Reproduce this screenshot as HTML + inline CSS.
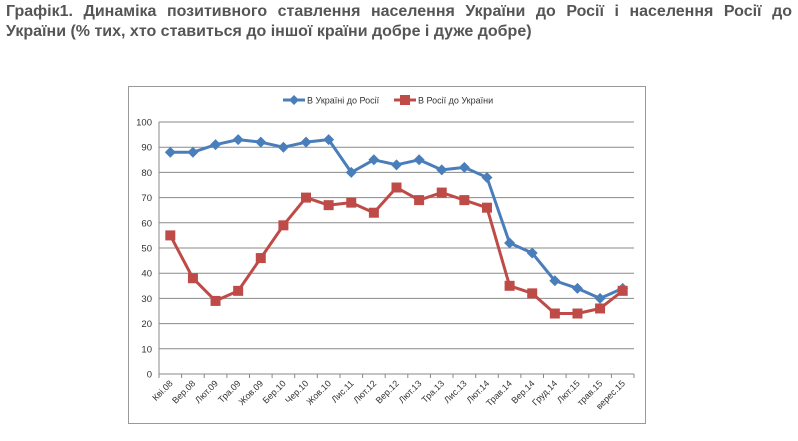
<!DOCTYPE html>
<html><head><meta charset="utf-8"><style>
body{margin:0;background:#fff;width:798px;height:441px;overflow:hidden;font-family:"Liberation Sans",sans-serif}
.t{position:absolute;left:6px;top:2px;width:786px;font-weight:bold;font-size:16px;line-height:20px;color:#555}
.l1{text-align:justify;text-align-last:justify;white-space:nowrap}
</style></head><body>
<div class="t"><div class="l1">Графік1. Динаміка позитивного ставлення населення України до Росії і населення Росії до</div><div>України (% тих, хто ставиться до іншої країни добре і дуже добре)</div></div>
<svg width="798" height="441" style="position:absolute;left:0;top:0" font-family="Liberation Sans, sans-serif">
<rect x="128.5" y="86.5" width="517" height="337" fill="#fff" stroke="#999" stroke-width="1"/>
<g id="g"></g>
</svg>
<script>
const B=[88,88,91,93,92,90,92,93,80,85,83,85,81,82,78,52,48,37,34,30,34];
const R=[55,38,29,33,46,59,70,67,68,64,74,69,72,69,66,35,32,24,24,26,33];
const L=["Кві.08","Вер.08","Лют.09","Тра.09","Жов.09","Бер.10","Чер.10","Жов.10","Лис.11","Лют.12","Вер.12","Лют.13","Тра.13","Лис.13","Лют.14","Трав.14","Вер.14","Груд.14","Лют.15","трав.15","верес.15"];
const x0=159,x1=634,y0=374,y100=122,w=(x1-x0)/21;
const Y=v=>y0-(y0-y100)*v/100, X=i=>x0+w/2+i*w;
let s="";
for(let v=0;v<=100;v+=10){const y=Y(v).toFixed(1);
 if(v>0)s+=`<line x1="${x0}" x2="${x1}" y1="${y}" y2="${y}" stroke="#8a8a8a" stroke-width="1"/>`;
 s+=`<text x="${x0-7}" y="${+y+3.5}" font-size="9.5" text-anchor="end" fill="#333">${v}</text>`;}
s+=`<line x1="${x0}" x2="${x0}" y1="${y100}" y2="${y0}" stroke="#888"/><line x1="${x0}" x2="${x1}" y1="${y0}" y2="${y0}" stroke="#888"/>`;
for(let i=0;i<=21;i++){const x=(x0+i*w).toFixed(1);s+=`<line x1="${x}" x2="${x}" y1="${y0}" y2="${y0+4}" stroke="#888"/>`;}
L.forEach((l,i)=>{const x=X(i)+3,y=y0+10;s+=`<text transform="translate(${x},${y}) rotate(-45)" font-size="9" text-anchor="end" fill="#333">${l}</text>`;});
s+=`<polyline points="${B.map((v,i)=>X(i)+","+Y(v)).join(" ")}" fill="none" stroke="#4a7ebb" stroke-width="3" stroke-linejoin="round"/>`;
s+=`<polyline points="${R.map((v,i)=>X(i)+","+Y(v)).join(" ")}" fill="none" stroke="#be4b48" stroke-width="3" stroke-linejoin="round"/>`;
B.forEach((v,i)=>{const x=X(i),y=Y(v);s+=`<polygon points="${x},${y-5.5} ${x+5.5},${y} ${x},${y+5.5} ${x-5.5},${y}" fill="#4a7ebb"/>`;});
R.forEach((v,i)=>{const x=X(i),y=Y(v);s+=`<rect x="${x-5}" y="${y-5}" width="10" height="10" fill="#be4b48"/>`;});
s+=`<line x1="283" x2="305" y1="100" y2="100" stroke="#4a7ebb" stroke-width="3"/><polygon points="294,95 299,100 294,105 289,100" fill="#4a7ebb"/>`;
s+=`<text x="307" y="103.5" font-size="9" fill="#333">В Україні до Росії</text>`;
s+=`<line x1="394" x2="416" y1="100" y2="100" stroke="#be4b48" stroke-width="3"/><rect x="400" y="95" width="10" height="10" fill="#be4b48"/>`;
s+=`<text x="418" y="103.5" font-size="9" fill="#333">В Росії до України</text>`;
document.getElementById("g").innerHTML=s;
</script>
</body></html>
